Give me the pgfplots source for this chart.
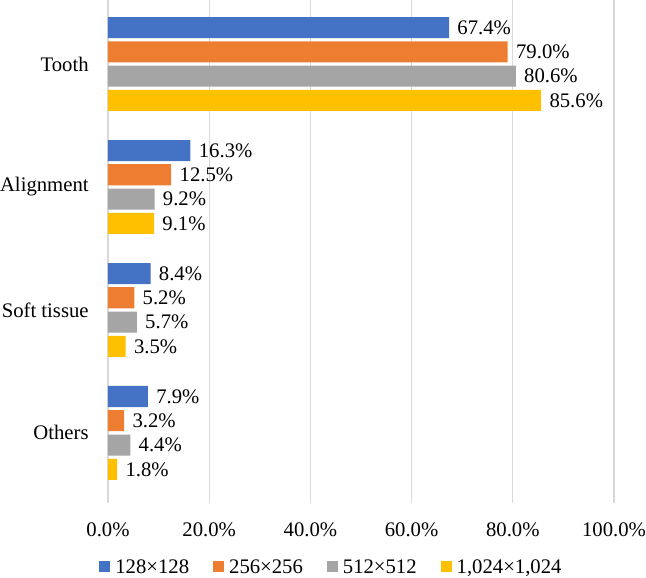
\documentclass[border=0pt]{standalone}
\usepackage{pgfplots}
\pgfplotsset{compat=1.18}
\usepackage{fontspec}
\setmainfont{Liberation Serif}
\definecolor{cA}{HTML}{4472C4}
\definecolor{cB}{HTML}{ED7D31}
\definecolor{cC}{HTML}{A5A5A5}
\definecolor{cD}{HTML}{FFC000}
\definecolor{gridc}{HTML}{D9D9D9}
\begin{document}
\begin{tikzpicture}[font=\fontsize{10.35}{12}\selectfont]
\begin{axis}[
  scale only axis,
  width=253pt, height=251.5pt,
  xmin=0, xmax=100,
  ymin=-0.52, ymax=3.57,
  y dir=reverse,
  xbar,
  bar width=0.171,
  xtick={0,20,40,60,80,100},
  xticklabel={\pgfmathprintnumber[fixed,fixed zerofill,precision=1]{\tick}\%},
  /pgf/number format/assume math mode=true,
  ytick={0,1,2,3},
  yticklabels={Tooth,Alignment,Soft tissue,Others},
  xticklabel style={anchor=base, inner sep=0pt, yshift=-16.5pt},
  yticklabel style={anchor=east, inner sep=0pt, xshift=-9.5pt},
  major tick length=0pt,
  axis line style={draw=none},
  xmajorgrids,
  grid style={draw=gridc, line width=0.6pt},
  point meta=explicit symbolic,
  nodes near coords,
  nodes near coords style={anchor=west, inner sep=0pt, xshift=4pt, text=black, font=\fontsize{10.35}{12}\selectfont},
  legend columns=4,
  legend style={draw=none, fill=none, at={(-0.0297,-0.1034)}, anchor=north west,
    nodes={inner sep=0pt, anchor=base west},
    /tikz/every odd column/.append style={column sep=2.5pt},
    /tikz/every even column/.append style={column sep=12pt}},
  legend image code/.code={\fill[#1] (0pt,0.5pt) rectangle (5.5pt,6pt);},
]
\coordinate (O) at (rel axis cs:0,0);
\addplot[fill=cA, draw=none, bar shift=-0.296] coordinates {(67.4,0) [67.4\%] (16.3,1) [16.3\%] (8.4,2) [8.4\%] (7.9,3) [7.9\%]};
\addlegendentry{128×128}
\addplot[fill=cB, draw=none, bar shift=-0.099] coordinates {(79.0,0) [79.0\%] (12.5,1) [12.5\%] (5.2,2) [5.2\%] (3.2,3) [3.2\%]};
\addlegendentry{256×256}
\addplot[fill=cC, draw=none, bar shift=0.099] coordinates {(80.6,0) [80.6\%] (9.2,1) [9.2\%] (5.7,2) [5.7\%] (4.4,3) [4.4\%]};
\addlegendentry{512×512}
\addplot[fill=cD, draw=none, bar shift=0.296] coordinates {(85.6,0) [85.6\%] (9.1,1) [9.1\%] (3.5,2) [3.5\%] (1.8,3) [1.8\%]};
\addlegendentry{1,024×1,024}
\end{axis}
\pgfresetboundingbox
\useasboundingbox (O) ++(-54pt,-37pt) rectangle ++(323pt,288.5pt);
\end{tikzpicture}
\end{document}
